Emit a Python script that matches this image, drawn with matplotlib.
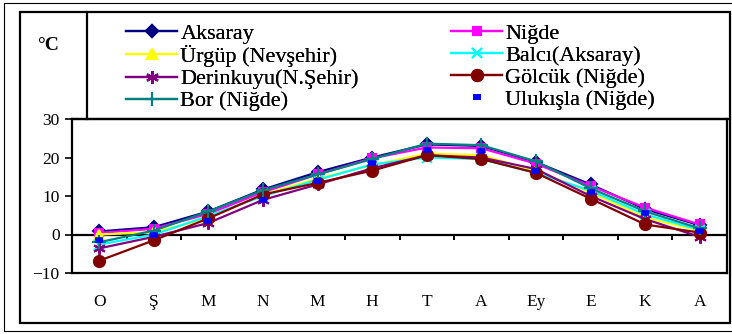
import numpy as np
import matplotlib.pyplot as plt
from matplotlib.patches import Rectangle
from matplotlib.lines import Line2D

plt.rcParams['font.family'] = ['Liberation Serif', 'DejaVu Serif']

# Months (water year, October to September)
months = ['O', 'Ş', 'M', 'N', 'M', 'H', 'T', 'A', 'Ey', 'E', 'K', 'A']

aksaray   = [0.8, 1.9, 6.0, 11.7, 16.2, 20.0, 23.4, 23.0, 18.8, 13.0, 6.6, 2.4]
nigde     = [0.4, 1.5, 5.4, 11.0, 15.6, 19.8, 22.6, 22.4, 18.4, 12.6, 7.0, 2.6]
urgup     = [0.0, 0.6, 4.2, 10.4, 14.5, 18.0, 21.0, 20.6, 16.5, 11.0, 4.4, 1.0]
balci     = [-2.6, 0.0, 4.8, 10.0, 14.2, 18.2, 20.0, 19.6, 16.0, 11.4, 5.2, 1.2]
derinkuyu = [-3.6, -0.6, 3.0, 9.0, 13.0, 17.2, 20.6, 20.0, 17.0, 10.0, 4.0, -0.6]
golcuk    = [-6.8, -1.5, 4.2, 10.4, 13.4, 16.6, 20.6, 19.6, 16.0, 9.3, 2.6, 0.5]
bor       = [-2.0, 1.0, 6.0, 11.5, 15.6, 19.6, 23.6, 23.2, 19.0, 12.0, 6.0, 1.6]
ulukisla  = [-1.3, 0.0, 3.4, 8.9, 13.8, 18.7, 22.0, 21.6, 16.6, 11.0, 5.7, 0.8]

W, H = 732, 334
fig = plt.figure(figsize=(W / 100, H / 100), dpi=100)

def fx(px):
    return px / W

def fy(py):
    return 1 - py / H

# outer and inner frames
fig.add_artist(Rectangle((fx(4), fy(331)), fx(740), 328 / H, fill=False,
                         lw=0.8, edgecolor='black', transform=fig.transFigure))
fig.add_artist(Rectangle((fx(20), fy(323)), fx(710), 311 / H, fill=False,
                         lw=1.6, edgecolor='black', transform=fig.transFigure))
fig.add_artist(Line2D([fx(87), fx(87)], [fy(12), fy(119)], lw=1.6, color='black',
                      transform=fig.transFigure))
fig.add_artist(Line2D([fx(72), fx(730)], [fy(119), fy(119)], lw=1.6, color='black',
                      transform=fig.transFigure))

ax = fig.add_axes([fx(72), fy(273), fx(727 - 72), (273 - 119) / H])
x = np.arange(len(months))

series = [
    ('Aksaray', aksaray, '#000080', 'D', 6),
    ('Niğde', nigde, '#FF00FF', 's', 6),
    ('Ürgüp (Nevşehir)', urgup, '#FFFF00', '^', 7),
    ('Balcı(Aksaray)', balci, '#00FFFF', 'x', 7),
    ('Derinkuyu(N.Şehir)', derinkuyu, '#800080', (6, 2, 0), 9),
    ('Gölcük (Niğde)', golcuk, '#800000', 'o', 8),
    ('Bor (Niğde)', bor, '#008080', '+', 10),
]
handles = {}
for name, vals, col, mk, ms in series:
    h, = ax.plot(x, vals, color=col, lw=1.6, marker=mk, markersize=ms,
                 markeredgewidth=1.5, markerfacecolor=col, markeredgecolor=col,
                 label=name, zorder=3)
    handles[name] = h
h, = ax.plot(x, ulukisla, linestyle='none', marker='_', markersize=6,
             markeredgewidth=4, color='#0000FF', label='Ulukışla (Niğde)', zorder=4)
handles['Ulukışla (Niğde)'] = h

ax.set_xlim(-0.5, 11.5)
ax.set_ylim(-10, 30)
ax.set_yticks([-10, 0, 10, 20, 30])
ax.tick_params(axis='y', direction='out', length=5, width=1.2, labelsize=12.5, pad=4)
ax.set_xticks(x)
ax.set_xticklabels(months)
ax.tick_params(axis='x', length=0, labelsize=12.5, pad=15)
for s in ax.spines.values():
    s.set_linewidth(1.6)

# zero line with category-boundary ticks
ax.axhline(0, color='black', lw=1.6, zorder=2)
ax.vlines(np.arange(0.5, 11.5, 1.0), -1.3, 0, color='black', lw=1.4, zorder=2)

fig.text(fx(37), fy(45), '°C', fontsize=14, fontweight='bold', va='center', ha='left')

col1 = ['Aksaray', 'Ürgüp (Nevşehir)', 'Derinkuyu(N.Şehir)', 'Bor (Niğde)']
col2 = ['Niğde', 'Balcı(Aksaray)', 'Gölcük (Niğde)', 'Ulukışla (Niğde)']
for names, left in [(col1, 126), (col2, 451)]:
    leg = fig.legend([handles[n] for n in names], names, loc='upper left',
                     bbox_to_anchor=(fx(left), fy(23)), frameon=False,
                     prop={'family': 'Liberation Serif', 'size': 16},
                     handlelength=2.3, handletextpad=0.15,
                     labelspacing=0.07, borderpad=0, borderaxespad=0)
    fig.add_artist(leg)

fig.savefig('out.png', dpi=100)
